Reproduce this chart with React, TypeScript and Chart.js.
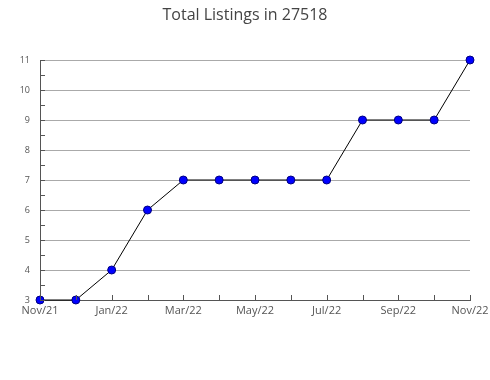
import React, { useEffect, useRef } from "react";
import { Chart, registerables } from "chart.js";

Chart.register(...registerables);

const categories = [
  "Nov/21", "Dec/21", "Jan/22", "Feb/22", "Mar/22", "Apr/22", "May/22",
  "Jun/22", "Jul/22", "Aug/22", "Sep/22", "Oct/22", "Nov/22",
];
const listings = [3, 3, 4, 6, 7, 7, 7, 7, 7, 9, 9, 9, 11];
const yMin = 3;
const yMax = 11;
const titleText = "Total Listings in 27518";

const innerTicks = {
  id: "innerTicks",
  afterDatasetsDraw(chart: any) {
    const { ctx, chartArea } = chart;
    const xs = chart.scales.x;
    const ys = chart.scales.y;
    ctx.save();
    ctx.strokeStyle = "#555";
    ctx.lineWidth = 1;
    ctx.beginPath();
    for (let i = 0; i < categories.length; i++) {
      const px = Math.round(xs.getPixelForValue(i)) + 0.5;
      ctx.moveTo(px, chartArea.bottom);
      ctx.lineTo(px, chartArea.bottom - 5);
    }
    for (let v = yMin; v <= yMax; v += 0.5) {
      const py = Math.round(ys.getPixelForValue(v)) + 0.5;
      ctx.moveTo(chartArea.left, py);
      ctx.lineTo(chartArea.left + 5, py);
    }
    ctx.stroke();
    ctx.restore();
  },
};

export default function App() {
  const ref = useRef<HTMLCanvasElement>(null);
  useEffect(() => {
    if (!ref.current) return;
    const chart = new Chart(ref.current, {
      type: "line",
      data: {
        labels: categories,
        datasets: [
          {
            data: listings,
            borderColor: "#000",
            borderWidth: 1,
            tension: 0,
            pointRadius: 4,
            pointHoverRadius: 4,
            pointBackgroundColor: "#0000ff",
            pointBorderColor: "#000080",
            pointBorderWidth: 1,
            clip: false as any,
          },
        ],
      },
      options: {
        animation: false,
        responsive: false,
        layout: { padding: 0 },
        plugins: {
          legend: { display: false },
          tooltip: { enabled: false },
          title: {
            display: true,
            text: titleText,
            color: "#444",
            font: { family: "'Open Sans', sans-serif", size: 16, weight: "normal" as any },
            padding: { top: 6, bottom: 34.8 },
          },
        },
        scales: {
          x: {
            type: "category",
            offset: false,
            grid: { display: false, drawTicks: false },
            border: { display: true, color: "#555", width: 1 },
            ticks: {
              autoSkip: false,
              maxRotation: 0,
              padding: 4,
              color: "#555",
              font: { family: "'Open Sans', sans-serif", size: 11 },
              callback: (_v: any, i: number) => (i % 2 === 0 ? categories[i] : ""),
            },
            afterFit: (s: any) => {
              s.height = 80;
              s.paddingRight = 20;
              s.paddingLeft = 0;
            },
          },
          y: {
            min: yMin,
            max: yMax,
            grid: { color: "#aaa", drawTicks: false, lineWidth: 1 },
            border: { display: true, color: "#555", width: 1 },
            ticks: {
              stepSize: 1,
              padding: 10,
              color: "#555",
              font: { family: "'Open Sans', sans-serif", size: 9 },
            },
            afterFit: (s: any) => {
              s.width = 40;
              s.paddingTop = 0;
              s.paddingBottom = 0;
            },
          },
        },
      },
      plugins: [innerTicks],
    });
    return () => chart.destroy();
  }, []);
  return (
    <canvas
      ref={ref}
      width={490}
      height={380}
      style={{ position: "fixed", left: 0, top: 0, width: 490, height: 380 }}
    />
  );
}
